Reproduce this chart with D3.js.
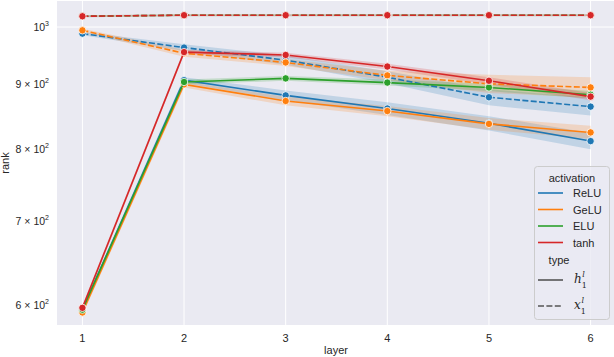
<!DOCTYPE html>
<html><head><meta charset="utf-8">
<script src="https://cdn.jsdelivr.net/npm/d3@7"></script>
<style>
body{margin:0;background:#fff;}
svg{display:block;font-family:"Liberation Sans",Arial,sans-serif;}
</style></head>
<body><svg id="c" width="614" height="357"></svg>
<script>
const layers = [1, 2, 3, 4, 5, 6];
const activations = ["ReLU", "GeLU", "ELU", "tanh"];
const types = ["h", "x"];
const colors = ["#1f77b4", "#ff7f0e", "#2ca02c", "#d62728"];
// mean rank per layer
const reluH = [595, 907, 882, 861, 838, 811];
const reluX = [988, 963, 941, 912, 879, 864];
const geluH = [592, 900, 873, 857, 837, 824];
const geluX = [994, 953, 937, 915, 901, 895];
const eluH  = [595, 904, 910, 903, 895, 883];
const eluX  = [1020, 1022, 1022, 1022, 1022, 1022];
const tanhH = [597, 955, 950, 930, 906, 880];
const tanhX = [1020, 1022, 1022, 1022, 1022, 1022];
// confidence-interval half widths
const reluHci = [3, 5, 8, 10, 11, 12];
const reluXci = [3, 6, 8, 10, 13, 14];
const geluHci = [3, 5, 7, 8, 9, 10];
const geluXci = [3, 6, 6, 8, 15, 17];
const eluHci  = [3, 4, 4, 5, 6, 6];
const eluXci  = [2, 2, 2, 2, 2, 2];
const tanhHci = [3, 4, 4, 5, 6, 6];
const tanhXci = [2, 2, 2, 2, 2, 2];
const yTicks = [600, 700, 800, 900, 1000];

const series = [
  {act:0, type:"h", v:reluH, ci:reluHci},
  {act:0, type:"x", v:reluX, ci:reluXci},
  {act:1, type:"h", v:geluH, ci:geluHci},
  {act:1, type:"x", v:geluX, ci:geluXci},
  {act:2, type:"h", v:eluH, ci:eluHci},
  {act:2, type:"x", v:eluX, ci:eluXci},
  {act:3, type:"h", v:tanhH, ci:tanhHci},
  {act:3, type:"x", v:tanhX, ci:tanhXci}
];

const svg = d3.select("#c");
const L = 57, R = 616, T = 1, B = 325;
const x = d3.scaleLinear().domain([0.75, 6.25]).range([L, R]);
const y = d3.scaleLog().domain([578.5, 1049]).range([B, T]);

svg.append("rect").attr("x", L).attr("y", T).attr("width", R - L).attr("height", B - T).attr("fill", "#eaeaf2");

// grid
svg.append("g").selectAll("line").data(layers).join("line")
  .attr("x1", d => x(d)).attr("x2", d => x(d)).attr("y1", T).attr("y2", B)
  .attr("stroke", "#fff").attr("stroke-width", 1);
svg.append("line").attr("x1", L).attr("x2", R).attr("y1", y(1000)).attr("y2", y(1000))
  .attr("stroke", "#fff").attr("stroke-width", 1);

// x tick labels
svg.append("g").selectAll("text").data(layers).join("text")
  .attr("x", d => x(d)).attr("y", 342).attr("text-anchor", "middle")
  .attr("font-size", 11).attr("fill", "#262626").text(d => d);

// y tick labels
const yl = svg.append("g");
yTicks.forEach(t => {
  const tx = yl.append("text").attr("x", 49).attr("y", y(t) + 4).attr("text-anchor", "end")
    .attr("font-size", 10.5).attr("fill", "#262626");
  if (t === 1000) {
    tx.append("tspan").text("10");
    tx.append("tspan").attr("dy", -5).attr("font-size", 7).text("3");
  } else {
    tx.append("tspan").text((t / 100) + " \u00d7 10");
    tx.append("tspan").attr("dy", -5).attr("font-size", 7).text("2");
  }
});

svg.append("text").attr("x", 336).attr("y", 354).attr("text-anchor", "middle")
  .attr("font-size", 11).attr("fill", "#262626").text("layer");
svg.append("text").attr("transform", "translate(9,163) rotate(-90)").attr("text-anchor", "middle")
  .attr("font-size", 11).attr("fill", "#262626").text("rank");

// bands
const area = d3.area().x((d, i) => x(layers[i])).y0(d => y(d[0])).y1(d => y(d[1]));
series.forEach(s => {
  svg.append("path").datum(s.v.map((v, i) => [v - s.ci[i], v + s.ci[i]]))
    .attr("d", area).attr("fill", colors[s.act]).attr("fill-opacity", 0.2).attr("stroke", "none");
});
// lines + markers
const line = d3.line().x((d, i) => x(layers[i])).y(d => y(d));
series.forEach(s => {
  svg.append("path").datum(s.v).attr("d", line).attr("fill", "none")
    .attr("stroke", colors[s.act]).attr("stroke-width", 1.6)
    .attr("stroke-dasharray", s.type === "x" ? "6,2.4" : null);
  svg.append("g").selectAll("circle").data(s.v).join("circle")
    .attr("cx", (d, i) => x(layers[i])).attr("cy", d => y(d)).attr("r", 3.7)
    .attr("fill", colors[s.act]).attr("stroke", "#fff").attr("stroke-width", 0.8);
});

// legend
const lg = svg.append("g");
lg.append("rect").attr("x", 534.5).attr("y", 166.5).attr("width", 75).attr("height", 153).attr("rx", 3)
  .attr("fill", "#eaeaf2").attr("fill-opacity", 0.8).attr("stroke", "#cccccc");
lg.append("text").attr("x", 572).attr("y", 182).attr("text-anchor", "middle").attr("font-size", 11)
  .attr("fill", "#262626").text("activation");
activations.forEach((a, i) => {
  const yy = 193 + i * 16.5;
  lg.append("line").attr("x1", 538).attr("x2", 563).attr("y1", yy).attr("y2", yy)
    .attr("stroke", colors[i]).attr("stroke-width", 1.6);
  lg.append("text").attr("x", 573).attr("y", yy + 4).attr("font-size", 11).attr("fill", "#262626").text(a);
});
lg.append("text").attr("x", 559).attr("y", 264).attr("text-anchor", "middle").attr("font-size", 11)
  .attr("fill", "#262626").text("type");
[["h", 280], ["x", 306]].forEach(([t, yy], i) => {
  lg.append("line").attr("x1", 538).attr("x2", 563).attr("y1", yy).attr("y2", yy)
    .attr("stroke", "#555").attr("stroke-width", 1.6).attr("stroke-dasharray", i ? "6,2.4" : null);
  const tx = lg.append("text").attr("x", 574).attr("y", yy + 3).attr("font-size", 12)
    .attr("fill", "#262626").attr("font-family", "DejaVu Serif, serif").attr("font-style", "italic");
  tx.append("tspan").text(t);
  tx.append("tspan").attr("dy", 5).attr("font-size", 8).attr("font-style", "normal").text("1");
  tx.append("tspan").attr("dx", -4.5).attr("dy", -11).attr("font-size", 8).text("l");
});
</script></body></html>
